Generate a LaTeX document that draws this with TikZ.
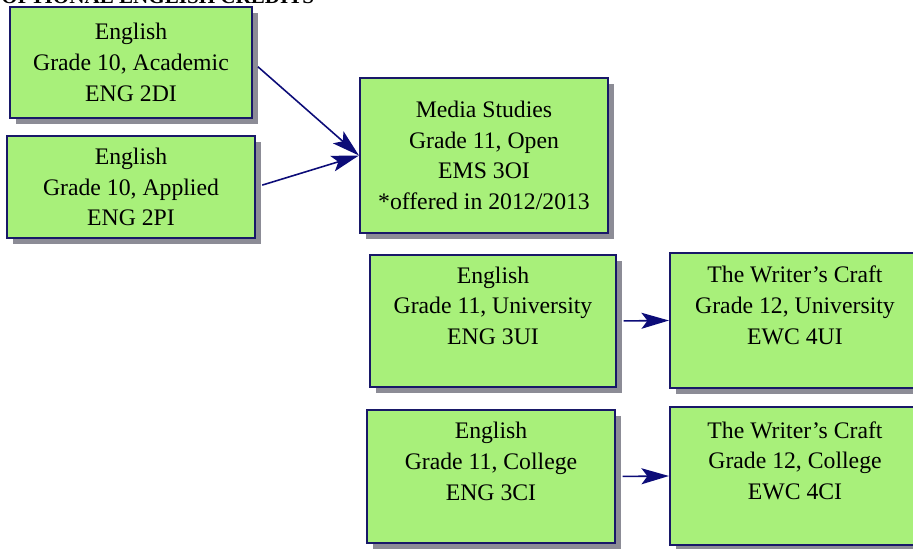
\documentclass[tikz,border=0pt]{standalone}
\usepackage{fontspec}
\setmainfont{Liberation Serif}
\usetikzlibrary{arrows.meta,shadows}
\definecolor{boxgreen}{RGB}{168,240,122}
\definecolor{boxnavy}{RGB}{24,24,104}
\definecolor{shadowgray}{RGB}{140,140,150}
\definecolor{arrownavy}{RGB}{12,12,120}
\tikzset{
	course/.style={draw=boxnavy, line width=1.2pt, fill=boxgreen, align=center, inner sep=0pt,
		font=\fontsize{13.5}{17.5}\selectfont,
		drop shadow={shadow xshift=0.12cm, shadow yshift=-0.12cm, fill=shadowgray, opacity=1}},
	link/.style={draw=arrownavy, line width=0.9pt, shorten <=0.13cm,
		-{Stealth[length=0.55cm, width=0.32cm, inset=0.12cm]}}
}

\begin{document}
\begin{tikzpicture}
			%%%%% START %%%%%
			\useasboundingbox (0, 0) rectangle (18.26, 10.96);
			\clip (0, 0) rectangle (18.26, 10.96);
			
			\node[anchor=base west, inner sep=0pt, font=\fontsize{12}{14}\selectfont\bfseries] (title) at (0.02, 10.88) {OPTIONAL ENGLISH CREDITS};
			
			% grade 10
			\node[course, minimum width=4.84cm, minimum height=2.22cm] (eng2d) at (2.62, 9.71) {English\\Grade 10, Academic\\ENG 2DI};
			\node[course, minimum width=4.96cm, minimum height=2.04cm] (eng2p) at (2.62, 7.22) {English\\Grade 10, Applied\\ENG 2PI};
			
			% grade 11
			\node[course, minimum width=4.96cm, minimum height=3.1cm] (ems3o) at (9.68, 7.85) {Media Studies\\Grade 11, Open\\EMS 3OI\\*offered in 2012/2013};
			\node[course, minimum width=4.92cm, minimum height=2.64cm] (eng3u) at (9.86, 4.54) {English\\Grade 11, University\\ENG 3UI\\~};
			\node[course, minimum width=4.96cm, minimum height=2.66cm] (eng3c) at (9.82, 1.43) {English\\Grade 11, College\\ENG 3CI\\~};
			
			% grade 12
			\node[course, minimum width=5.0cm, minimum height=2.7cm] (ewc4u) at (15.9, 4.55) {The Writer's Craft\\Grade 12, University\\EWC 4UI\\~};
			\node[course, minimum width=5.0cm, minimum height=2.76cm] (ewc4c) at (15.9, 1.44) {The Writer's Craft\\Grade 12, College\\EWC 4CI\\~};
			
			\draw[link] (eng2d.east) -- (ems3o.west);
			\draw[link] (eng2p.east) -- (ems3o.west);
			\draw[link] (eng3u.east) -- (ewc4u.west);
			\draw[link] (eng3c.east) -- (ewc4c.west);
			
			%%%%% END %%%%%
\end{tikzpicture}
\end{document}
